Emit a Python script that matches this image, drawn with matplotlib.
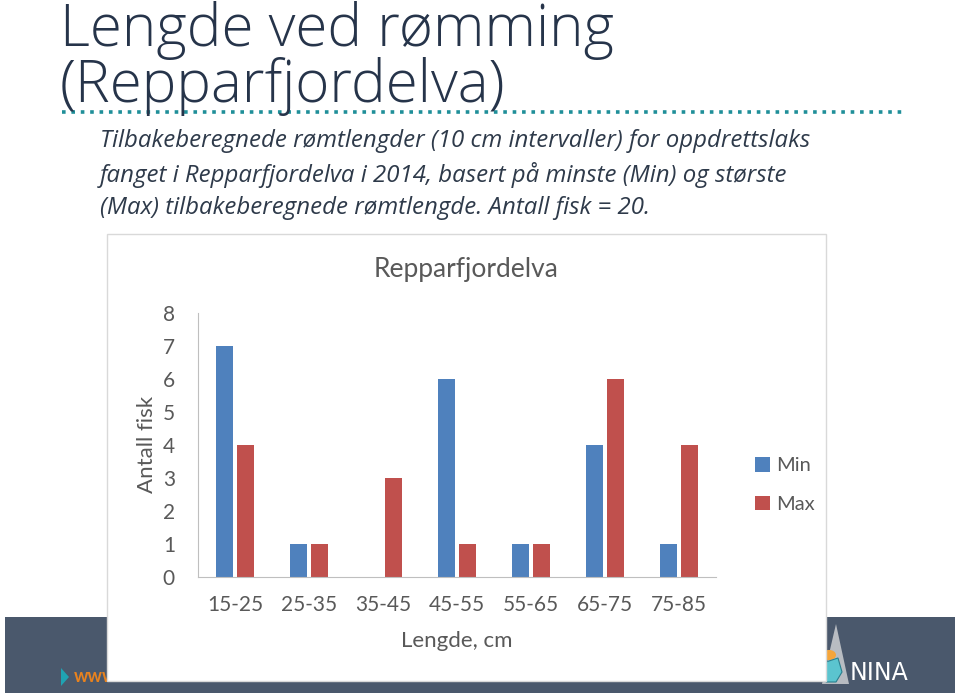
import numpy as np
import matplotlib.pyplot as plt
from matplotlib.patches import Rectangle, Polygon, Circle

categories = ["15-25", "25-35", "35-45", "45-55", "55-65", "65-75", "75-85"]
min_vals = [7, 1, 0, 6, 1, 4, 1]
max_vals = [4, 1, 3, 1, 1, 6, 4]

W, H = 960, 696
fig = plt.figure(figsize=(W / 100, H / 100), dpi=100)
fig.patch.set_facecolor("white")

def fx(x):
    return x / W

def fy(y):
    return 1 - y / H

navy = "#26344a"
band = "#4a586c"
grey = "#595959"

# bottom band
fig.patches.append(Rectangle((fx(5), fy(693)), fx(950), 76 / H, transform=fig.transFigure,
                             facecolor=band, edgecolor="none", zorder=0))
# www + arrow
fig.patches.append(Polygon([[fx(61), fy(668)], [fx(61), fy(686)], [fx(69), fy(677)]],
                           closed=True, transform=fig.transFigure, facecolor="#1fa3b3",
                           edgecolor="none", zorder=1))
fig.text(fx(74), fy(677), "www", color="#e8821e", fontsize=13, fontweight="bold",
         va="center", ha="left", family="Lato", zorder=1)

# NINA logo
fig.patches.append(Polygon([[fx(836), fy(624)], [fx(822), fy(684)], [fx(849), fy(684)]],
                           closed=True, transform=fig.transFigure, facecolor="#b8bcc2",
                           edgecolor="none", zorder=1))
fig.patches.append(Circle((fx(829), fy(655)), 7 / W, transform=fig.transFigure,
                          facecolor="#f5a53a", edgecolor="none", zorder=1))
fig.patches.append(Polygon([[fx(826), fy(662)], [fx(838), fy(658)], [fx(842), fy(672)],
                            [fx(836), fy(682)], [fx(826), fy(682)]],
                           closed=True, transform=fig.transFigure, facecolor="#5bc4cf",
                           edgecolor="#2a7f8e", linewidth=0.8, zorder=1))
fig.text(fx(850), fy(673), "NINA", color="white", fontsize=17, va="center", ha="left",
         family="Liberation Sans Narrow", zorder=1)

# white chart box
fig.patches.append(Rectangle((fx(107), fy(681)), fx(719), 447 / H, transform=fig.transFigure,
                             facecolor="white", edgecolor="#d9d9d9", linewidth=1, zorder=2))

# slide title
fig.text(fx(60), fy(31), "Lengde ved rømming", color=navy, fontsize=42, va="center",
         ha="left", family="Open Sans", fontweight="light")
fig.text(fx(60), fy(86), "(Repparfjordelva)", color=navy, fontsize=42, va="center",
         ha="left", family="Open Sans", fontweight="light")
fig.lines.append(plt.Line2D([fx(62), fx(905)], [fy(112), fy(112)], transform=fig.transFigure,
                            color="#1f8f99", linestyle=(0, (1, 1.6)), linewidth=2.6))

subtitle = ["Tilbakeberegnede rømtlengder (10 cm intervaller) for oppdrettslaks",
            "fanget i Repparfjordelva i 2014, basert på minste (Min) og største",
            "(Max) tilbakeberegnede rømtlengde. Antall fisk = 20."]
for i, line in enumerate(subtitle):
    fig.text(fx(100), fy(141 + 33.5 * i), line, color="#2e3a4a", fontsize=17.3, style="italic",
             va="center", ha="left", family="Open Sans")

# chart
ax = fig.add_axes([fx(198), fy(577), fx(518), 264 / H])
ax.set_zorder(3)
ax.patch.set_alpha(0)
x = np.arange(len(categories))
bw = 0.23
ax.bar(x - 0.145, min_vals, bw, color="#4f81bd", label="Min")
ax.bar(x + 0.145, max_vals, bw, color="#c0504d", label="Max")
ax.set_xlim(-0.5, len(categories) - 0.5)
ax.set_ylim(0, 8)
ax.set_yticks(range(9))
ax.set_xticks(x)
ax.set_xticklabels(categories)
for s in ["top", "right"]:
    ax.spines[s].set_visible(False)
ax.spines["left"].set_color("#bfbfbf")
ax.spines["bottom"].set_color("#bfbfbf")
ax.tick_params(length=0, labelsize=15, labelcolor=grey, pad=13)
ax.tick_params(axis="y", pad=21)
for t in ax.get_xticklabels():
    t.set_family("Lato")
for t in ax.get_yticklabels():
    t.set_family("Lato")
    t.set_horizontalalignment("center")

fig.text(fx(466), fy(269), "Repparfjordelva", color=grey, fontsize=19, ha="center",
         va="center", family="Lato", zorder=4)
fig.text(fx(457), fy(641), "Lengde, cm", color=grey, fontsize=16, ha="center",
         va="center", family="Lato", zorder=4)
fig.text(fx(147), fy(444), "Antall fisk", color=grey, fontsize=16, ha="center",
         va="center", rotation=90, family="Lato", zorder=4)

leg = ax.legend(loc="center left", bbox_to_anchor=(fx(737), fy(485)),
                bbox_transform=fig.transFigure, frameon=False, fontsize=14.5,
                handlelength=0.75, handleheight=0.75, labelspacing=1.05, handletextpad=0.3)
for t in leg.get_texts():
    t.set_color(grey)
    t.set_family("Lato")

fig.savefig("out.png", dpi=100)
